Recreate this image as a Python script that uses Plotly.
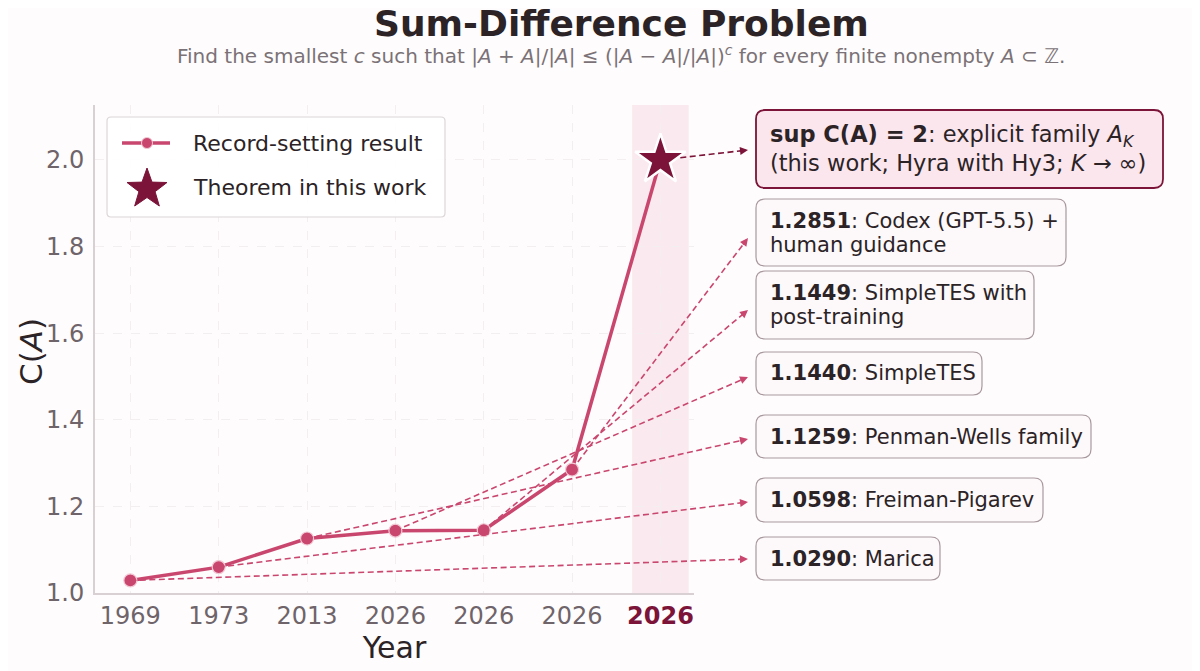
import math
import plotly.graph_objects as go

# data
years = ["1969", "1973", "2013", "2026", "2026", "2026", "2026"]
values = [1.0290, 1.0598, 1.1259, 1.1440, 1.1449, 1.2851, 2.0]
labels = [
    ["<b>1.0290</b>: Marica"],
    ["<b>1.0598</b>: Freiman-Pigarev"],
    ["<b>1.1259</b>: Penman-Wells family"],
    ["<b>1.1440</b>: SimpleTES"],
    ["<b>1.1449</b>: SimpleTES with", "post-training"],
    ["<b>1.2851</b>: Codex (GPT-5.5) +", "human guidance"],
    ["<b>sup C(A) = 2</b>: explicit family <i>A</i><sub><i>K</i></sub>",
     "(this work; Hyra with Hy3; <i>K</i> → ∞)"],
]
yticks = [1.0, 1.2, 1.4, 1.6, 1.8, 2.0]
legend_names = ["Record-setting result", "Theorem in this work"]

# colours
LINE = "#c9476f"
DARK = "#7b1438"
TXT = "#2b2326"
TICK = "#6e6469"
BG = "#fffcfd"
FONT = "DejaVu Sans"

# page layout (pixels in the 1200x671 window; page body has an 8px margin)
OFF = 8
W, H = 1200 - OFF, 671 - OFF
L, R, T, B = 95, 694, 105, 593
X_RANGE = [-0.4, 6.38]
Y_RANGE = [1.0, 2.127]

# annotation boxes: (top, bottom, right), same order as values
box_left = 756
boxes = [(537, 580, 940), (478, 522, 1043), (415, 458, 1091), (352, 395, 982),
         (271, 339, 1034), (199, 266, 1066), (110, 188, 1163)]
heads_y = [559, 502, 439, 377, 310, 238, 150]
head_x = 748


def px(xp):
    return (xp - L) / (R - L)


def py(yp):
    return (B - yp) / (B - T)


def data_pix(i, v):
    xp = L + (i - X_RANGE[0]) / (X_RANGE[1] - X_RANGE[0]) * (R - L)
    yp = B - (v - Y_RANGE[0]) / (Y_RANGE[1] - Y_RANGE[0]) * (B - T)
    return xp, yp


def rounded(x0, y0, x1, y1, r=9):
    # pixel box -> paper path with rounded corners
    rx, ry = r / (R - L), r / (B - T)
    a, b, c, d = px(x0), py(y1), px(x1), py(y0)
    return (f"M {a+rx},{b} L {c-rx},{b} Q {c},{b} {c},{b+ry} L {c},{d-ry} "
            f"Q {c},{d} {c-rx},{d} L {a+rx},{d} Q {a},{d} {a},{d-ry} "
            f"L {a},{b+ry} Q {a},{b} {a+rx},{b} Z")


def star_path(cx, cy, r_out, r_in):
    pts = []
    for k in range(10):
        r = r_out if k % 2 == 0 else r_in
        ang = -math.pi / 2 + k * math.pi / 5
        pts.append((px(cx + r * math.cos(ang)), py(cy + r * math.sin(ang))))
    return "M " + " L ".join(f"{a},{b}" for a, b in pts) + " Z"


xs = list(range(len(years)))

fig = go.Figure()
fig.add_trace(go.Scatter(
    x=xs, y=values, mode="lines+markers", name=legend_names[0],
    line=dict(color=LINE, width=3.5),
    marker=dict(size=13, color=LINE, line=dict(color="#f3c9d6", width=1.2))))
fig.add_trace(go.Scatter(
    x=[xs[-1]], y=[values[-1]], mode="markers", name=legend_names[1],
    marker=dict(symbol="star", size=38, color=DARK, line=dict(color="white", width=2.5)),
    cliponaxis=False))

fig.add_vrect(x0=5.68, x1=6.32, fillcolor="rgba(205,80,120,0.11)", line_width=0, layer="below")

shapes = []
annotations = []
for i, v in enumerate(values):
    last = i == len(values) - 1
    sx, sy = data_pix(i, v)
    hx, hy = head_x, heads_y[i]
    dx, dy = hx - sx, hy - sy
    n = (dx * dx + dy * dy) ** 0.5
    ux, uy = dx / n, dy / n
    col = DARK if last else LINE
    if last:
        sx, sy = sx + ux * 20, sy + uy * 20
    shapes.append(dict(type="line", xref="paper", yref="paper",
                       x0=px(sx), y0=py(sy), x1=px(hx - ux * 6), y1=py(hy - uy * 6),
                       line=dict(color=col, width=1.6, dash="6px,3.5px"), layer="above"))
    annotations.append(dict(xref="paper", yref="paper", x=px(hx), y=py(hy), text="",
                            showarrow=True, arrowhead=2, arrowsize=1, arrowwidth=1.6,
                            arrowcolor=col, ax=-ux * 10, ay=-uy * 10))
    top, bot, right = boxes[i]
    shapes.append(dict(type="path", xref="paper", yref="paper", path=rounded(box_left, top, right, bot),
                       fillcolor="#fbe6ed" if last else "#fdf8f9",
                       line=dict(color=DARK if last else "#a8999f", width=1.8 if last else 1.2),
                       layer="above"))
    lines = labels[i]
    gap = 27 if last else 24
    cy = (top + bot) / 2
    for j, t in enumerate(lines):
        yl = cy + (j - (len(lines) - 1) / 2) * gap
        annotations.append(dict(xref="paper", yref="paper", x=px(box_left + 12), y=py(yl),
                                xanchor="left", yanchor="middle", align="left", showarrow=False,
                                text=t, font=dict(family=FONT, size=22.5 if last else 21, color=TXT)))

# hand-drawn legend
shapes.append(dict(type="path", xref="paper", yref="paper", path=rounded(107, 117, 445, 217, r=4),
                   fillcolor="rgba(255,255,255,0.93)", line=dict(color="#dcd6d8", width=1.2),
                   layer="above"))
shapes.append(dict(type="line", xref="paper", yref="paper", x0=px(122), x1=px(170),
                   y0=py(143), y1=py(143), line=dict(color=LINE, width=3.5), layer="above"))
shapes.append(dict(type="circle", xref="paper", yref="paper", x0=px(141.5), x1=px(152.5),
                   y0=py(148.5), y1=py(137.5), fillcolor=LINE, line=dict(color="#f3c9d6", width=1),
                   layer="above"))
shapes.append(dict(type="path", xref="paper", yref="paper", path=star_path(147, 189, 21, 8.5),
                   fillcolor=DARK, line=dict(color=DARK, width=1), layer="above"))
for name, yl in zip(legend_names, [143, 187]):
    annotations.append(dict(xref="paper", yref="paper", x=px(191), y=py(yl), xanchor="left",
                            yanchor="middle", showarrow=False, text=name,
                            font=dict(family=FONT, size=22, color=TXT)))

# title + subtitle
annotations.append(dict(xref="paper", yref="paper", x=px(621), y=py(23), xanchor="center",
                        yanchor="middle", showarrow=False, text="<b>Sum-Difference Problem</b>",
                        font=dict(family=FONT, size=36, color=TXT)))
annotations.append(dict(xref="paper", yref="paper", x=px(621), y=py(54.5), xanchor="center",
                        yanchor="middle", showarrow=False,
                        text="Find the smallest <i>c</i> such that |<i>A</i> + <i>A</i>|/|<i>A</i>| ≤ "
                             "(|<i>A</i> − <i>A</i>|/|<i>A</i>|)<sup><i>c</i></sup> for every finite "
                             "nonempty <i>A</i> ⊂ ℤ.",
                        font=dict(family=FONT, size=20, color="#7a7276")))
# y axis title
annotations.append(dict(xref="paper", yref="paper", x=px(31), y=py(352), xanchor="center",
                        yanchor="middle", showarrow=False, textangle=-90, text="C(<i>A</i>)",
                        font=dict(family=FONT, size=31, color=TXT)))

ticktext = years[:-1] + [f"<b><span style='color:{DARK}'>{years[-1]}</span></b>"]

fig.update_layout(
    width=W, height=H,
    margin=dict(l=L - OFF, r=W - (R - OFF), t=T - OFF, b=H - (B - OFF)),
    paper_bgcolor=BG, plot_bgcolor="rgba(0,0,0,0)",
    font=dict(family=FONT, color=TXT),
    shapes=list(fig.layout.shapes) + shapes,
    annotations=annotations,
    showlegend=False,
    xaxis=dict(range=X_RANGE, tickvals=xs, ticktext=ticktext, showgrid=True,
               gridcolor="#f3eef0", gridwidth=1, griddash="dash", zeroline=False, showline=True,
               linecolor="#d9d0d4", linewidth=2, ticks="",
               tickfont=dict(family=FONT, size=24, color=TICK),
               title=dict(text="Year", font=dict(family=FONT, size=30, color=TXT), standoff=8)),
    yaxis=dict(range=Y_RANGE, tickvals=yticks, tickformat=".1f", showgrid=True,
               gridcolor="#f3eef0", gridwidth=1, griddash="dash", zeroline=False, showline=True,
               linecolor="#d9d0d4", linewidth=2, ticks="outside", ticklen=4,
               tickcolor="rgba(0,0,0,0)",
               tickfont=dict(family=FONT, size=24, color=TICK)),
)

fig.write_html("out.html")
